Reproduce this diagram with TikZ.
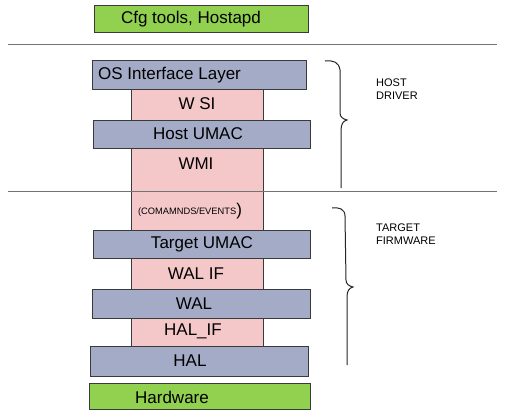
\documentclass[tikz,border=0pt]{standalone}
\usepackage{fontspec}
\setmainfont{Liberation Sans}
\definecolor{grn}{HTML}{92D050}
\definecolor{blu}{HTML}{A3ABC6}
\definecolor{pnk}{HTML}{F4C8C9}
\definecolor{edge}{HTML}{3A3A3A}
\begin{document}
\begin{tikzpicture}[x=1pt,y=-1pt,
  layer/.style={draw=edge,line width=1.3pt,inner sep=0pt,anchor=north west},
  lbl/.style={font=\fontsize{17}{17}\selectfont,inner sep=0pt},
  side/.style={font=\fontsize{11}{13}\selectfont,align=left,anchor=north west,inner sep=0pt},
  sep/.style={draw=gray!90!black,line width=0.8pt},
  brace/.style={draw=black!85,line width=1pt}]
\useasboundingbox[fill=white] (0,0) rectangle (507,418);
% separators
\coordinate (s1l) at (8,44); \coordinate (s1r) at (497,44);
\coordinate (s2l) at (8,191); \coordinate (s2r) at (497,191);
% pink columns
\node[layer,fill=pnk,minimum width=132pt,minimum height=141pt] (colA) at (131,89) {};
\node[layer,fill=pnk,minimum width=132pt,minimum height=88pt] (colB) at (131,258) {};
\draw[sep] (s1l) -- (s1r);
\draw[sep] (s2l) -- (s2r);
% green boxes
\node[layer,fill=grn,minimum width=214pt,minimum height=27pt] (cfg) at (94,5) {};
\node[layer,fill=grn,minimum width=221pt,minimum height=26pt] (hw) at (89,383) {};
% blue boxes
\node[layer,fill=blu,minimum width=214pt,minimum height=29pt] (osil) at (92,60) {};
\node[layer,fill=blu,minimum width=217pt,minimum height=28pt] (humac) at (93,120) {};
\node[layer,fill=blu,minimum width=217pt,minimum height=28pt] (tumac) at (93,230) {};
\node[layer,fill=blu,minimum width=218pt,minimum height=29pt] (wal) at (92,289) {};
\node[layer,fill=blu,minimum width=218pt,minimum height=30pt] (hal) at (90,346) {};
% labels
\node[lbl] (tcfg) at (191,19) {Cfg tools, Hostapd};
\node[lbl,anchor=west] (tosil) at (98,75) {OS Interface Layer};
\node[lbl] (twsi) at (197,104) {W SI};
\node[lbl] (thumac) at (198,134) {Host UMAC};
\node[lbl] (twmi) at (196,164) {WMI};
\node[inner sep=0pt] (tcmd) at (190,211) {\fontsize{9.3}{10}\selectfont(COMAMNDS/EVENTS\raisebox{-0.5pt}{\fontsize{17}{17}\selectfont)}};
\node[lbl] (ttumac) at (202,244) {Target UMAC};
\node[lbl] (twalif) at (196,274) {WAL IF};
\node[lbl] (twal) at (194,304) {WAL};
\node[lbl] (thalif) at (193,331) {HAL\_IF};
\node[lbl] (thal) at (190,361) {HAL};
\node[lbl] (thw) at (172,397) {Hardware};
% side labels
\node[side] (thost) at (376,79) {HOST\\DRIVER};
\node[side] (ttgt) at (376,224) {TARGET\\FIRMWARE};
% braces
\draw[brace] (325,61) .. controls (333,60) and (339,62) .. (340,70) -- (340,113)
  .. controls (340,117) and (343,119) .. (347,120)
  .. controls (343,121) and (341,124) .. (341,131) -- (341,188);
\draw[brace] (332,208) .. controls (339,207) and (345,209) .. (345,216) -- (346,280)
  .. controls (346,284) and (349,286) .. (353,287)
  .. controls (349,288) and (347,291) .. (347,297) -- (347,365);
\end{tikzpicture}
\end{document}
